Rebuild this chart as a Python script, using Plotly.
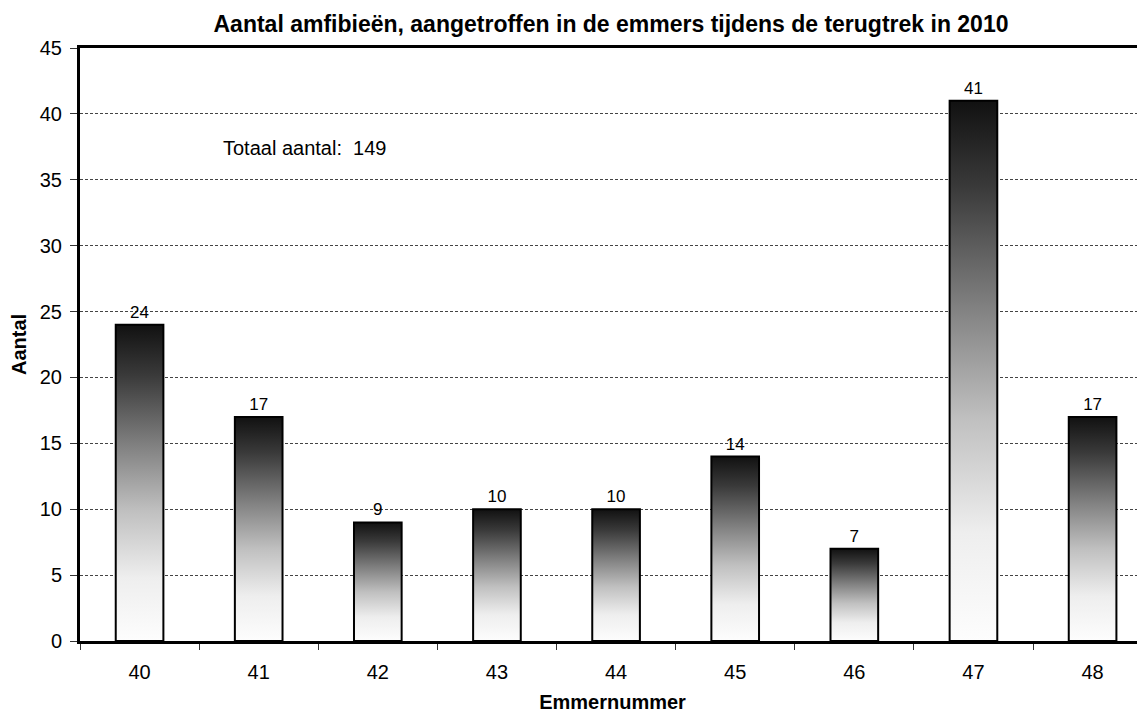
import plotly.graph_objects as go

emmers = [40, 41, 42, 43, 44, 45, 46, 47, 48]
aantal = [24, 17, 9, 10, 10, 14, 7, 41, 17]
totaal_label = "Totaal aantal:&nbsp;&nbsp;149"
title = "Aantal amfibieën, aangetroffen in de emmers tijdens de terugtrek in 2010"

FONT = "Arial, Liberation Sans, sans-serif"
BAR_W = 0.4
grad = [[0.0, "#fdfdfd"], [0.2, "#eeeeee"], [0.41, "#c0c0c0"],
        [0.62, "#808080"], [0.84, "#3a3a3a"], [1.0, "#111111"]]

# the page body has an 8px margin: figure is sized to end at the window edge
W, H = 1137, 705

fig = go.Figure()

# value labels (invisible bars)
fig.add_trace(go.Bar(
    x=emmers, y=aantal, width=BAR_W,
    marker=dict(color="rgba(0,0,0,0)", line=dict(width=0)),
    text=[str(v) for v in aantal], textposition="outside",
    textfont=dict(family=FONT, size=17, color="black"),
    cliponaxis=False, hoverinfo="skip", showlegend=False,
))

# gradient-filled bars
for xv, yv in zip(emmers, aantal):
    x0, x1 = xv - BAR_W / 2, xv + BAR_W / 2
    fig.add_trace(go.Scatter(
        x=[x0, x1, x1, x0, x0], y=[0, 0, yv, yv, 0],
        mode="lines", fill="toself",
        fillgradient=dict(type="vertical", colorscale=grad),
        line=dict(color="black", width=2),
        hoverinfo="skip", showlegend=False,
    ))

fig.add_annotation(
    x=40.68, y=37.4, xref="x", yref="y", text=totaal_label, showarrow=False,
    xanchor="left", yanchor="middle", font=dict(family=FONT, size=20, color="black"),
)

fig.update_layout(
    width=W, height=H,
    margin=dict(l=72, r=0, t=40, b=72),
    paper_bgcolor="white", plot_bgcolor="white",
    title=dict(text="<b>" + title + "</b>", x=(611 - 8) / W, xanchor="center",
               y=1 - 16 / H, yanchor="middle",
               font=dict(family=FONT, size=23, color="black")),
    font=dict(family=FONT, color="black"),
    showlegend=False,
)

fig.update_xaxes(
    range=[39.5, 48.44], tickmode="array", tickvals=emmers,
    ticktext=[str(e) for e in emmers],
    ticks="outside", ticklen=11, tickcolor="rgba(0,0,0,0)",
    tickfont=dict(family=FONT, size=20, color="black"),
    minor=dict(tick0=39.5, dtick=1, ticks="outside", ticklen=6,
               tickcolor="#333", tickwidth=1, showgrid=False),
    showline=True, linecolor="black", linewidth=3, mirror=True,
    showgrid=False, zeroline=False,
    title=dict(text="<b>Emmernummer</b>", standoff=16,
               font=dict(family=FONT, size=20, color="black")),
)

fig.update_yaxes(
    range=[0, 45], dtick=5, tick0=0,
    ticks="outside", ticklen=7, tickcolor="#333", tickwidth=1,
    ticklabelstandoff=4,
    tickfont=dict(family=FONT, size=20, color="black"),
    showline=True, linecolor="black", linewidth=3,
    showgrid=True, gridcolor="#444444", gridwidth=1, griddash="3px,2px",
    zeroline=False,
    title=dict(text="<b>Aantal</b>", standoff=12,
               font=dict(family=FONT, size=20, color="black")),
)

fig.write_html("out.html")
